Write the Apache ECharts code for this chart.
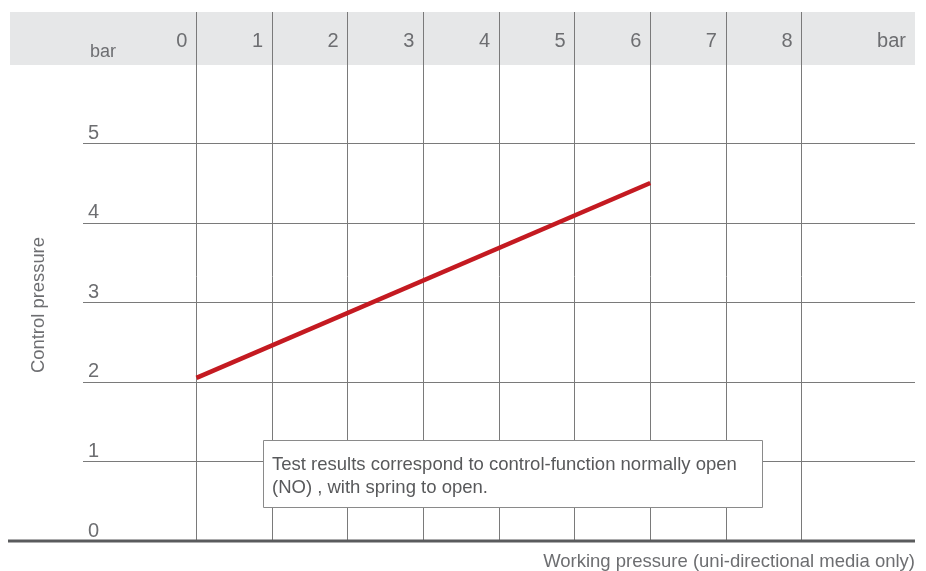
<!DOCTYPE html>
<html><head><meta charset="utf-8">
<script src="https://cdn.jsdelivr.net/npm/echarts@6/dist/echarts.min.js"></script>
<style>html,body{margin:0;padding:0;background:#fff}#c{width:926px;height:571px}</style>
</head><body><div id="c"></div>
<script>
const xTicks = [0, 1, 2, 3, 4, 5, 6, 7, 8];
const yTicks = [1, 2, 3, 4, 5];
const workingPressure = [0, 6];
const controlPressure = [2.05, 4.5];
const unitLabel = 'bar';
const xName = 'Working pressure (uni-directional media only)';
const yName = 'Control pressure';
const noteLines = ['Test results correspond to control-function normally open', '(NO) , with spring to open.'];

const FONT = '"Liberation Sans", Arial, sans-serif';
const TXT = '#6d6e71';
const GRID = '#7a7a7a';

const chart = echarts.init(document.getElementById('c'), null, {renderer: 'canvas'});
chart.setOption({
  animation: false,
  textStyle: {fontFamily: FONT},
  title: {
    text: xName, right: 11, bottom: 0, padding: 0,
    textStyle: {fontFamily: FONT, fontSize: 18.5, fontWeight: 'normal', color: TXT}
  },
  grid: {left: 83, right: 11, top: 12, bottom: 30},
  xAxis: {
    type: 'value', position: 'top', min: -1.5, max: 9.5, interval: 0.5,
    axisLine: {show: false}, axisTick: {show: false}, splitLine: {show: false},
    axisLabel: {
      inside: true, margin: 19, align: 'right', padding: [0, 9, 0, 0],
      fontFamily: FONT, fontSize: 20, color: TXT, showMinLabel: true, showMaxLabel: true,
      formatter: v => (xTicks.indexOf(v) >= 0 ? String(v) : (v === 9.5 ? unitLabel : ''))
    }
  },
  yAxis: {
    type: 'value', min: 0, max: 6.65, interval: 1,
    axisLine: {show: false}, axisTick: {show: false}, splitLine: {show: false},
    axisLabel: {
      inside: true, margin: 5, align: 'left', verticalAlign: 'bottom', padding: [0, 0, 0, 0],
      fontFamily: FONT, fontSize: 20, color: TXT,
      formatter: v => (v <= 5 ? String(v) : '')
    }
  },
  graphic: [
    {type: 'rect', z: -10, shape: {x: 10, y: 12, width: 905, height: 53}, style: {fill: '#e6e7e8'}},
    {type: 'line', z: 10, shape: {x1: 8, y1: 541, x2: 915, y2: 541}, style: {stroke: '#5a5b5d', lineWidth: 3}},
    {type: 'text', z: 10, left: 90, top: 43, style: {text: unitLabel, font: '18px ' + FONT, fill: TXT}},
    {type: 'text', z: 10, x: 39, y: 305, rotation: Math.PI / 2,
      style: {text: yName, font: '18.4px ' + FONT, fill: TXT, align: 'center', verticalAlign: 'middle'}},
    {type: 'rect', z: 20, shape: {x: 263.5, y: 440.5, width: 499, height: 67}, style: {fill: '#fff', stroke: '#8a8a8a', lineWidth: 1}},
    {type: 'text', z: 21, left: 272, top: 453, style: {text: noteLines.join('\n'), font: '18.5px ' + FONT, fill: '#58595b', lineHeight: 23}}
  ],
  series: [{
    type: 'line', z: 5,
    data: workingPressure.map((x, i) => [x, controlPressure[i]]),
    showSymbol: false, symbol: 'none',
    lineStyle: {color: '#c41a21', width: 4.5, cap: 'butt'},
    markLine: {
      silent: true, symbol: 'none', label: {show: false}, z: 1,
      lineStyle: {color: GRID, width: 1, type: 'solid'},
      data: xTicks.map(v => ({xAxis: v})).concat(yTicks.map(v => ({yAxis: v})))
    }
  }]
});
</script></body></html>
